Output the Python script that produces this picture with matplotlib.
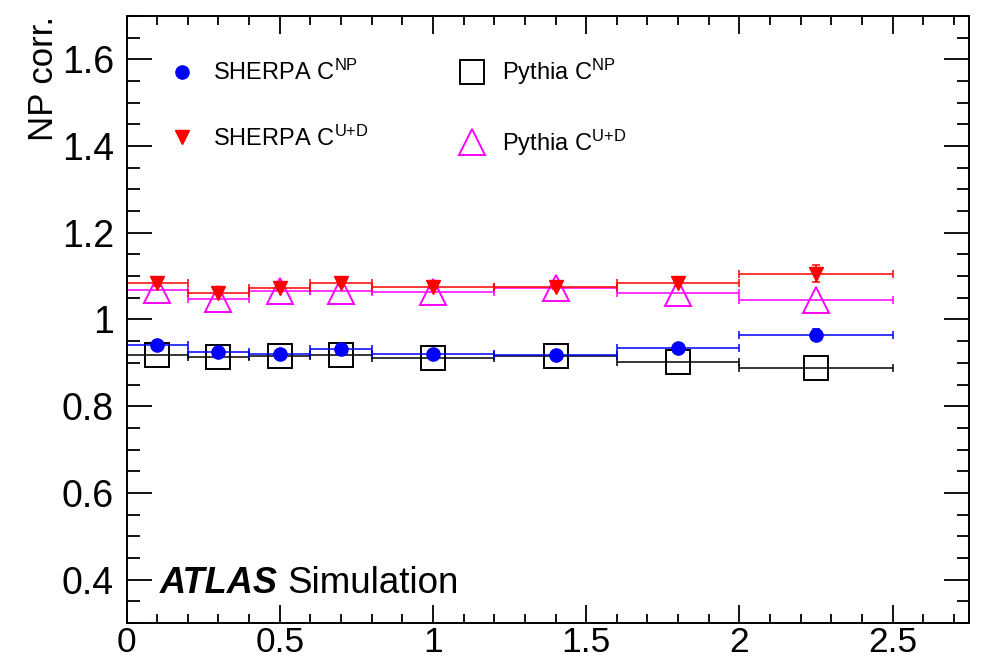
import matplotlib
matplotlib.use('Agg')
import matplotlib.pyplot as plt
from matplotlib.lines import Line2D
from matplotlib.ticker import MultipleLocator
import numpy as np

# bins in x (edges) and the bin centres used for the points
bin_lo = [0.0, 0.2, 0.4, 0.6, 0.8, 1.2, 1.6, 2.0]
bin_hi = [0.2, 0.4, 0.6, 0.8, 1.2, 1.6, 2.0, 2.5]
x_pts = [0.1, 0.3, 0.5, 0.7, 1.0, 1.4, 1.8, 2.25]

# non-perturbative corrections
sherpa_np = [0.942, 0.924, 0.921, 0.932, 0.921, 0.919, 0.935, 0.965]
sherpa_np_err = [0.004, 0.003, 0.003, 0.003, 0.003, 0.003, 0.004, 0.012]
pythia_np = [0.919, 0.914, 0.915, 0.919, 0.911, 0.915, 0.902, 0.887]
sherpa_ud = [1.083, 1.062, 1.072, 1.083, 1.076, 1.074, 1.083, 1.106]
sherpa_ud_err = [0.005, 0.004, 0.004, 0.004, 0.004, 0.004, 0.005, 0.02]
pythia_ud = [1.069, 1.048, 1.065, 1.065, 1.064, 1.073, 1.062, 1.044]

labels = ['SHERPA C$^{NP}$', 'Pythia C$^{NP}$', 'SHERPA C$^{U{+}D}$', 'Pythia C$^{U{+}D}$']

plt.rcParams['font.family'] = ['Liberation Sans', 'DejaVu Sans']
plt.rcParams['mathtext.default'] = 'regular'

fig = plt.figure(figsize=(9.9, 6.6), dpi=100)
ax = fig.add_axes([0.1278, 0.0561, 0.8512, 0.9197])

x_pts = np.array(x_pts)
xerr = [x_pts - np.array(bin_lo), np.array(bin_hi) - x_pts]

def draw(y, yerr, color, marker, ms, filled):
    ax.errorbar(x_pts, y, xerr=xerr, yerr=yerr, fmt='none', ecolor=color,
                elinewidth=1.1, capsize=3.0, capthick=1.1)
    ax.plot(x_pts, y, linestyle='none', marker=marker, markersize=ms,
            color=color, markerfacecolor=color if filled else 'none',
            markeredgewidth=1.0 if filled else 1.4)

draw(pythia_np, None, 'black', 's', 17.5, False)
draw(sherpa_np, sherpa_np_err, 'blue', 'o', 9.5, True)
draw(pythia_ud, None, '#ff00ff', '^', 19, False)
draw(sherpa_ud, sherpa_ud_err, 'red', 'v', 9.5, True)

ax.set_xlim(0, 2.75)
ax.set_ylim(0.3, 1.7)
ax.xaxis.set_minor_locator(MultipleLocator(0.1))
ax.yaxis.set_minor_locator(MultipleLocator(0.05))
ax.set_yticks(np.arange(0.4, 1.61, 0.2))
ax.set_yticklabels(['0.4', '0.6', '0.8', '1', '1.2', '1.4', '1.6'])
ax.set_xticks(np.arange(0, 2.51, 0.5))
ax.set_xticklabels(['0', '0.5', '1', '1.5', '2', '2.5'])

for lab in ax.get_yticklabels():
    lab.set_fontsize(27)
for lab in ax.get_xticklabels():
    lab.set_fontsize(25.5)

ax.tick_params(axis='both', which='both', direction='in', top=True, right=True, width=1.3)
ax.tick_params(axis='y', which='major', length=18, pad=9)
ax.tick_params(axis='y', which='minor', length=9)
ax.tick_params(axis='x', which='major', length=13, pad=2)
ax.tick_params(axis='x', which='minor', length=6.5)
for sp in ax.spines.values():
    sp.set_linewidth(1.4)

ax.set_ylabel('NP corr.', fontsize=25, loc='top')
ax.yaxis.set_label_coords(-0.079, 1.0)

handles = [
    Line2D([], [], linestyle='none', marker='o', markersize=9.5, color='blue'),
    Line2D([], [], linestyle='none', marker='v', markersize=9.5, color='red'),
    Line2D([], [], linestyle='none', marker='s', markersize=17.5, color='black', markerfacecolor='none', markeredgewidth=1.4),
    Line2D([], [], linestyle='none', marker='^', markersize=19, color='#ff00ff', markerfacecolor='none', markeredgewidth=1.4),
]
ax.legend(handles, [labels[0], labels[2], labels[1], labels[3]], ncol=2, frameon=False,
          fontsize=17, loc='upper left', bbox_to_anchor=(0.0265, 0.967),
          handlelength=1.0, handletextpad=0.8, columnspacing=3.87, labelspacing=1.7)

ax.text(0.04, 0.049, 'ATLAS', transform=ax.transAxes, fontsize=26,
        fontweight='bold', fontstyle='italic', va='baseline')
ax.text(0.1905, 0.049, 'Simulation', transform=ax.transAxes, fontsize=26.5, va='baseline')

fig.savefig('out.png', dpi=100)
